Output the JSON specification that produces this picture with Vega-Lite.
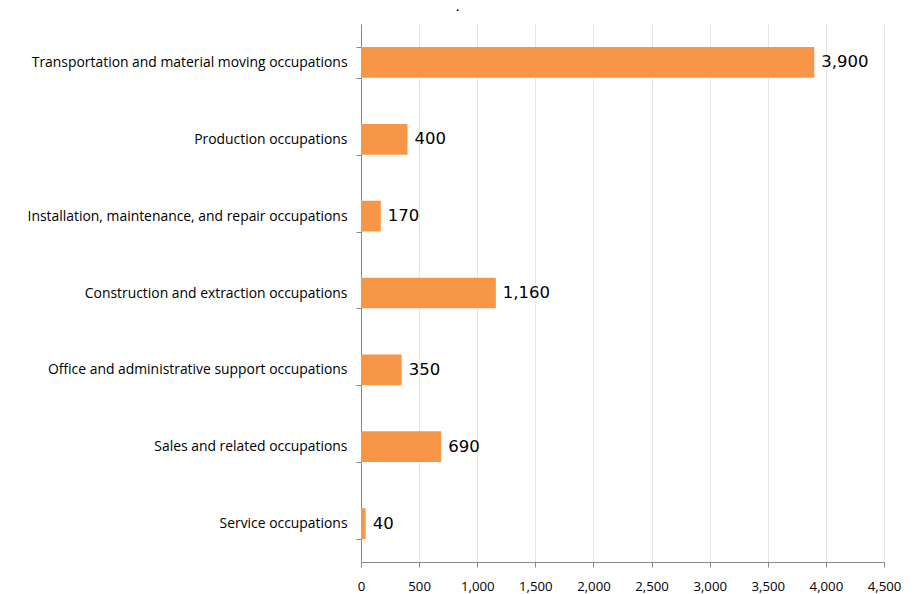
{
  "$schema": "https://vega.github.io/schema/vega-lite/v6.json",
  "width": 523,
  "height": 538,
  "autosize": {"type": "none"},
  "padding": {"left": 361, "top": 24, "right": 36, "bottom": 32},
  "background": "white",
  "title": {"text": ".", "fontSize": 11, "color": "#000", "dx": -165, "offset": 4, "font": "Open Sans", "fontWeight": "bold"},
  "data": {"values": [
    {"occupation": "Transportation and material moving occupations", "value": 3900},
    {"occupation": "Production occupations", "value": 400},
    {"occupation": "Installation, maintenance, and repair occupations", "value": 170},
    {"occupation": "Construction and extraction occupations", "value": 1160},
    {"occupation": "Office and administrative support occupations", "value": 350},
    {"occupation": "Sales and related occupations", "value": 690},
    {"occupation": "Service occupations", "value": 40}
  ]},
  "config": {"view": {"stroke": null}},
  "encoding": {
    "y": {
      "field": "occupation", "type": "nominal", "sort": null,
      "scale": {"paddingInner": 0.6, "paddingOuter": 0.3},
      "axis": {
        "title": null, "tickBand": "extent", "tickSize": 5, "tickColor": "#888", "domainColor": "#888",
        "labelFont": "Open Sans", "labelFontSize": 13.9, "labelColor": "#000", "labelPadding": 9,
        "labelLimit": 400, "grid": false
      }
    }
  },
  "layer": [
    {
      "mark": {"type": "bar", "color": "#F79646"},
      "encoding": {
        "x": {
          "field": "value", "type": "quantitative",
          "scale": {"domain": [0, 4500], "nice": false},
          "axis": {
            "title": null, "values": [0,500,1000,1500,2000,2500,3000,3500,4000,4500],
            "format": ",d", "tickSize": 5, "tickColor": "#888", "domainColor": "#888",
            "gridColor": "#e6e6e6", "labelFont": "Open Sans", "labelFontSize": 13.2,
            "labelColor": "#000", "labelPadding": 13, "labelFlush": false
          }
        }
      }
    },
    {
      "mark": {"type": "text", "align": "left", "baseline": "middle", "dx": 7, "font": "DejaVu Sans", "fontSize": 16.5, "color": "#000"},
      "encoding": {
        "x": {"field": "value", "type": "quantitative"},
        "text": {"field": "value", "type": "quantitative", "format": ",d"}
      }
    }
  ]
}
